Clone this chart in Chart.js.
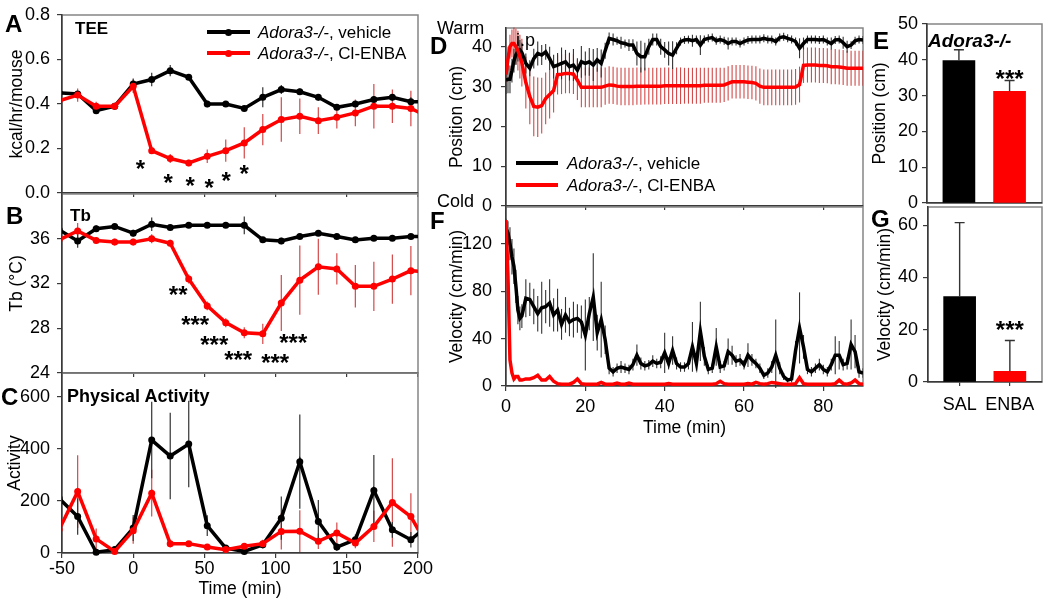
<!DOCTYPE html>
<html><head><meta charset="utf-8">
<script src="https://cdn.jsdelivr.net/npm/chart.js@4.4.1/dist/chart.umd.min.js"></script>
<style>
body{margin:0;width:1050px;height:610px;background:#fff;position:relative;overflow:hidden;font-family:'Liberation Sans',Arial,sans-serif;}
canvas{position:absolute;}
.t{position:absolute;white-space:nowrap;transform:translateY(-50%);line-height:1;color:#000;}
.b{font-weight:bold;}
.L{font-size:24px;font-weight:bold;}
.sw{position:absolute;}
</style></head><body>
<script>
// ---------------- DATA ----------------
const timeLeft = [-52,-39,-26,-13,0,13,26,39,52,65,78,91,104,117,130,143,156,169,182,195,208];
const xTicksLeft = [-50,0,50,100,150,200];
const xLabelsLeft = ['-50','0','50','100','150','200'];

const teeVeh     = [0.45,0.445,0.37,0.39,0.49,0.51,0.55,0.52,0.40,0.40,0.38,0.43,0.465,0.455,0.43,0.385,0.40,0.42,0.43,0.41,0.41];
const teeVehErr  = [0.01,0.01,0.015,0.01,0.025,0.03,0.025,0.01,0.015,0.01,0.01,0.045,0.02,0.015,0.015,0.01,0.01,0.015,0.015,0.02,0.02];
const teeEnba    = [0.415,0.44,0.39,0.39,0.48,0.19,0.155,0.135,0.165,0.19,0.225,0.285,0.33,0.345,0.325,0.34,0.36,0.39,0.39,0.38,0.34];
const teeEnbaErr = [0.02,0.03,0.02,0.015,0.03,0.01,0.02,0.015,0.03,0.05,0.07,0.07,0.1,0.08,0.06,0.05,0.06,0.1,0.075,0.08,0.08];
const yTicksA = [0,0.2,0.4,0.6,0.8];
const yLabelsA = ['0.0','0.2','0.4','0.6','0.8'];

const tbVeh     = [36.8,35.8,36.9,37.1,36.5,37.3,37.0,37.2,37.2,37.2,37.2,35.9,35.8,36.2,36.5,36.2,35.9,36.05,36.05,36.2,36.2];
const tbVehErr  = [0.2,0.6,0.3,0.2,0.3,0.6,0.2,0.2,0.2,0.2,0.8,0.2,0.3,0.2,0.2,0.2,0.2,0.2,0.2,0.2,0.2];
const tbEnba    = [35.9,36.7,35.85,35.7,35.7,36.0,35.6,32.4,30.0,28.5,27.6,27.5,30.25,32.3,33.5,33.3,31.75,31.75,32.4,33.15,33.0];
const tbEnbaErr = [0.3,0.7,0.3,0.3,0.3,0.4,0.3,0.4,0.4,0.4,0.5,0.9,2.5,3.1,2.5,1.4,1.9,2.2,2.2,2.2,2.2];
const yTicksB = [24,28,32,36];
const yLabelsB = ['24','28','32','36'];

const actVeh     = [210,140,3,13,96,434,373,419,105,19,6,32,134,351,121,23,51,240,89,51,110];
const actVehErr  = [30,70,10,10,50,147,166,166,40,10,10,15,83,181,83,15,20,137,30,30,30];
const actEnba    = [90,236,54,6,86,230,36,36,23,13,26,36,83,84,45,77,38,102,194,140,15];
const actEnbaErr = [40,140,40,10,50,90,15,10,10,10,10,15,70,80,30,40,20,60,170,90,60];
const yTicksC = [0,200,400,600];
const yLabelsC = ['0','200','400','600'];

const timeDF = [0,0.5,1,1.5,2,2.5,3,3.5,4,
  5,6,7,8,9,10,11,12,13,14,
  15,16,17,18,19,20,21,22,23,24,
  25,26,27,28,29,30,31,32,33,34,
  35,36,37,38,39,40,41,42,43,44,
  45,46,47,48,49,50,51,52,53,54,
  55,56,57,58,59,60,61,62,63,64,
  65,66,67,68,69,70,71,72,73,74,
  75,76,77,78,79,80,81,82,83,84,
  85,86,87,88,89,90];
const xTicksDF = [0,20,40,60,80];
const xLabelsDF = ['0','20','40','60','80'];

const posVeh = [31.6,31.8,31.8,34,36.5,38,38.8,39.2,38.5,
  35.8,34.6,37,38.3,37.9,38.7,37,35,35.4,35.8,
  36.2,35,35.4,34.1,36.2,35.8,36.2,35.4,36.7,35.8,
  39,42.1,41.8,41.5,41,40.8,40.4,40.4,38.3,37.5,
  37.5,40,41.8,41.8,40,39.2,38.3,37.9,39.6,41.3,
  41.7,41.8,41.5,41.8,40.4,41.8,42.1,42.3,41.5,41.8,
  41.5,40.8,41.3,41.3,40.8,41.3,41.7,41.8,41.8,41.8,
  42.1,41.8,41.8,41.3,42.3,42.5,42.1,41.8,41.3,39.6,
  40.8,41.8,41.8,41.8,41.7,41.8,41.3,40.8,41.7,41.8,
  41,40,40.4,41.5,41.8,41.7];
const posVehErr = [3.5,3.5,3.5,3,3,2.5,2.5,2.5,2.5,
  2.5,2,2.5,3,2.5,2,3,3,3,4,
  3,3.5,4,3,4,3,3.5,4,3,3.5,
  2,1.5,1.5,1,1.5,1,1.5,1.5,3,4,
  3.5,2,1.5,1.5,2,2,3,3.5,1.5,1,
  1,1,1.5,1,2.5,1,1,1,1,1,
  1,1.5,1,1,1,1,1,1,1,1,
  1,1,1,1,1,1,1,1,1,2.5,
  1.5,1,1,1,1,1,1,1.5,1,1,
  1.5,1.5,1,1,1,1];
const posEnba = [33,37,40,40.8,40.8,40,39,37.5,36,
  31,27.5,25,24.8,25.2,27,28,29,33,33.1,
  33.3,33.3,33.1,31.6,29.8,29.8,29.8,29.8,29.8,29.8,
  30.1,30.4,30.3,30.1,30,30,30,30,30.1,30.1,
  30.1,30.1,30.1,30.1,30.1,30.2,30.2,30.2,30.2,30.2,
  30.2,30.2,30.2,30.2,30.2,30.3,30.3,30.3,30.3,30.3,
  30.4,30.8,31.2,31.2,31.2,31.2,31.1,31,30.8,30.1,
  29.8,29.8,29.8,29.8,29.8,29.8,29.8,29.8,29.9,30.5,
  35.3,35.4,35.4,35.4,35.3,35.3,35.2,35,35,34.9,
  34.8,34.6,34.6,34.6,34.6,34.6];
const posEnbaErr = [2,3,3,3.5,4,4.5,5,5.5,6,
  6.5,7,7.5,7.5,7,6.5,6,5.5,5,5,
  5,5,5,5,5,5,5,5,5,5,
  4.7,4.7,4.7,4.7,4.7,4.7,4.7,4.7,4.7,4.7,
  4.6,4.6,4.6,4.6,4.6,4.6,4.6,4.6,4.6,4.6,
  4.5,4.5,4.5,4.5,4.5,4.4,4.4,4.4,4.4,4.4,
  4.3,4.3,4.2,4.2,4.2,4.2,4.2,4.2,4.3,4.4,
  4.5,4.5,4.5,4.5,4.5,4.5,4.5,4.5,4.5,4.5,
  4.4,4.4,4.4,4.4,4.4,4.4,4.4,4.4,4.4,4.4,
  4.4,4.4,4.4,4.4,4.4,4.4];
const yTicksD = [0,10,20,30,40];
const yLabelsD = ['0','10','20','30','40'];

const velVeh = [133,129,120,109,101,84,64,57,59,
  74,73,67,61,66,67,70,60,64,52,
  60,54,56,57,54,43,61,75,45,56,
  39,15,12,15,16,15,14,18,26,19,
  17,18,21,19,20,28,19,30,19,16,
  16,19,33,19,46,25,14,15,33,16,
  17,29,26,21,22,18,26,22,19,15,
  9,11,16,26,15,8,5,6,30,49,
  33,14,12,15,18,14,12,18,26,26,
  18,19,35,29,12,11];
const velVehErr = [8,10,14,15,15,14,12,10,10,
  16,14,15,15,22,14,20,14,18,13,
  15,12,15,12,14,30,14,37,15,32,
  12,5,4,4,5,4,4,5,9,5,
  4,4,5,4,5,17,5,12,5,4,
  4,5,21,6,25,8,4,4,16,5,
  4,11,8,5,5,4,10,5,4,4,
  3,4,5,30,5,3,2,3,8,30,
  10,4,4,4,5,4,4,5,16,12,
  5,5,21,14,5,4];
const velEnba = [140,92,22,11,6,8,8,5,5,
  6,6,7,9,5,5,8,4,2,1.5,
  1.5,1.5,3,6,2,1.5,1.5,1.5,1.5,3,
  1.5,1.5,1.5,2.5,1.5,1.5,2.5,1.5,1.5,1.5,
  1.5,1.5,1.5,1.5,1.5,1.5,2,1.5,1.5,1.5,
  1.5,1.5,1.5,1.5,1.5,1.5,1.5,1.5,2,4,
  2,1.5,1.5,1.5,1.5,1.5,2,1.5,3,2,
  1.5,2,3,2.5,2,1.5,1.5,1.5,2,7,
  2,1.5,1.5,1.5,1.5,1.5,1.5,1.5,2,5,
  2,1.5,2.5,5,2,1.5];
const yTicksF = [0,40,80,120];
const yLabelsF = ['0','40','80','120'];

const barCats = ['SAL','ENBA'];
const posBars = [39.8,31.2];
const posBarErr = [3.0,3.0];
const velBars = [32.7,4.1];
const velBarErr = [28.3,11.8];
const yTicksE = [0,10,20,30,40,50];
const yLabelsE = ['0','10','20','30','40','50'];
const yTicksG = [0,20,40,60];
const yLabelsG = ['0','20','40','60'];

const starsA = [{x:5,y:0.135,text:'*'},{x:24.6,y:0.072,text:'*'},{x:40,y:0.058,text:'*'},{x:53.4,y:0.049,text:'*'},{x:65.3,y:0.081,text:'*'},{x:78,y:0.112,text:'*'}];
const starsB = [{x:31.6,y:31.5,text:'**'},{x:43.5,y:28.8,text:'***'},{x:56.9,y:27.05,text:'***'},{x:73.7,y:25.7,text:'***'},{x:99.7,y:25.4,text:'***'},{x:112.4,y:27.2,text:'***'}];
const starsE = [{x:2,y:36.2,text:'***'}];
const starsG = [{x:2,y:22.1,text:'***'}];

// ---------------- STYLE / HELPERS ----------------
Chart.defaults.font.family = "'Liberation Sans', Arial, sans-serif";
Chart.defaults.color = '#000';
const AX = '#3a3a3a', FRAME = '#858585', RED = '#ff0000', BLK = '#000000';

const framePlugin = {
  id:'frame',
  beforeDraw(chart){
    const a = chart.chartArea, ctx = chart.ctx;
    ctx.save(); ctx.strokeStyle = FRAME; ctx.lineWidth = 1.5;
    ctx.strokeRect(a.left, a.top, a.right - a.left, a.bottom - a.top);
    ctx.restore();
  }
};
function drawErrors(chart, onTop){
  const {ctx, chartArea:a, scales:{x, y}} = chart;
  ctx.save();
  ctx.beginPath(); ctx.rect(a.left, a.top - 2, a.right - a.left, a.bottom - a.top + 4); ctx.clip();
  chart.data.datasets.forEach(ds => {
    if (!ds.errors || !!ds.errorOnTop !== onTop) return;
    ctx.strokeStyle = ds.errorColor; ctx.lineWidth = ds.errorWidth;
    ds.data.forEach((p, j) => {
      const e = ds.errors[j]; if (!e) return;
      const px = x.getPixelForValue(p.x);
      const lo = ds.errorUp ? p.y : p.y - e;
      const y1 = y.getPixelForValue(lo), y2 = y.getPixelForValue(p.y + e);
      ctx.beginPath(); ctx.moveTo(px, y1); ctx.lineTo(px, y2);
      if (ds.errorCap) { ctx.moveTo(px - ds.errorCap, y2); ctx.lineTo(px + ds.errorCap, y2); }
      ctx.stroke();
    });
  });
  ctx.restore();
}
const errorPlugin = {
  id:'errors',
  beforeDatasetsDraw(chart){ drawErrors(chart, false); },
  afterDatasetsDraw(chart){ drawErrors(chart, true); }
};
function starsPlugin(items){
  return { id:'stars', afterDatasetsDraw(chart){
    const {ctx, scales:{x, y}} = chart;
    ctx.save(); ctx.fillStyle = '#000'; ctx.font = "bold 24px 'Liberation Sans', Arial, sans-serif";
    ctx.textAlign = 'center'; ctx.textBaseline = 'alphabetic';
    items.forEach(s => ctx.fillText(s.text, x.getPixelForValue(s.x), y.getPixelForValue(s.y) + 14));
    ctx.restore();
  }};
}
function xAxis(min, max, ticks, labels, o){
  o = o || {};
  return {
    type:'linear', min, max, offset:false,
    afterBuildTicks: s => { s.ticks = ticks.map(v => ({value:v})); },
    ticks:{ display: !!labels, callback:(v,i) => labels ? labels[i] : '', font:{size:18}, color:'#000',
            padding: o.pad === undefined ? 2 : o.pad, maxRotation:0, autoSkip:false },
    grid:{ drawOnChartArea:false, drawTicks: o.noTicks ? false : true, tickLength: o.tl || 4, color:AX, lineWidth:1.2, offset:false },
    border:{ display:true, color:AX, width:1.5 },
    title: o.title ? { display:true, text:o.title, font:{size:17.5}, color:'#000', padding:{top:0, bottom:o.titlePad} } : { display:false }
  };
}
function yAxis(min, max, ticks, labels, title, titlePad, pad){
  return {
    type:'linear', min, max,
    afterBuildTicks: s => { s.ticks = ticks.map(v => ({value:v})); },
    ticks:{ callback:(v,i) => labels[i], font:{size:18}, color:'#000', padding:pad, autoSkip:false },
    grid:{ drawOnChartArea:false, tickLength:5, color:AX, lineWidth:1.2 },
    border:{ display:true, color:AX, width:1.5 },
    title:{ display:true, text:title, font:{size:17.5}, color:'#000', padding:{top:titlePad, bottom:0} }
  };
}
function lineDS(times, vals, errs, color, o){
  return Object.assign({
    data: times.map((t, i) => ({x:t, y:vals[i]})),
    borderColor: color, backgroundColor: color, pointBackgroundColor: color, pointBorderColor: color,
    borderWidth: 3.5, pointRadius: 3.5, pointBorderWidth: 0, tension: 0,
    clip: {left:0, right:0, top:6, bottom:6},
    errors: errs, errorColor: color === RED ? 'rgba(205,40,40,0.85)' : '#333', errorWidth: 1.2
  }, o || {});
}
function panel(box, plot, cfg, stars){
  const c = document.createElement('canvas');
  c.width = box.w; c.height = box.h;
  c.style.left = box.l + 'px'; c.style.top = box.t + 'px';
  c.style.width = box.w + 'px'; c.style.height = box.h + 'px';
  document.body.appendChild(c);
  const o = cfg.options;
  o.responsive = false; o.animation = false; o.devicePixelRatio = 1; o.events = [];
  o.plugins = { legend:{display:false}, tooltip:{enabled:false} };
  o.layout = { padding:{ left:0, top: plot.t - box.t, right: box.l + box.w - plot.r, bottom:0 } };
  o.scales.x.afterFit = s => { s.height = box.t + box.h - plot.b; s.paddingLeft = 0; s.paddingRight = 0; };
  o.scales.y.afterFit = s => { s.width = plot.l - box.l; s.paddingTop = 0; s.paddingBottom = 0; };
  cfg.plugins = [framePlugin, errorPlugin].concat(stars ? [starsPlugin(stars)] : []);
  return new Chart(c, cfg);
}

// ---------------- PANEL A : TEE ----------------
panel({l:0,t:0,w:440,h:200}, {l:62,t:15,r:418,b:193}, {
  type:'line',
  data:{ datasets:[ lineDS(timeLeft, teeEnba, teeEnbaErr, RED), lineDS(timeLeft, teeVeh, teeVehErr, BLK) ] },
  options:{ scales:{ x: xAxis(-50, 200, xTicksLeft, null), y: yAxis(0, 0.8, yTicksA, yLabelsA, 'kcal/hr/mouse', 6.5, 7) } }
}, starsA);

// ---------------- PANEL B : Tb ----------------
panel({l:0,t:186,w:440,h:194}, {l:62,t:194,r:418,b:373}, {
  type:'line',
  data:{ datasets:[ lineDS(timeLeft, tbEnba, tbEnbaErr, RED), lineDS(timeLeft, tbVeh, tbVehErr, BLK) ] },
  options:{ scales:{ x: xAxis(-50, 200, xTicksLeft, null), y: yAxis(24, 40, yTicksB, yLabelsB, 'Tb (°C)', 6.5, 7) } }
}, starsB);

// ---------------- PANEL C : Activity ----------------
panel({l:0,t:366,w:440,h:244}, {l:62,t:373,r:418,b:553}, {
  type:'line',
  data:{ datasets:[ lineDS(timeLeft, actEnba, actEnbaErr, RED), lineDS(timeLeft, actVeh, actVehErr, BLK) ] },
  options:{ scales:{ x: xAxis(-50, 200, xTicksLeft, xLabelsLeft, {tl:5, pad:0, title:'Time (min)', titlePad:10.5}),
                     y: yAxis(0, 692, yTicksC, yLabelsC, 'Activity', 4.5, 7) } }
});

// ---------------- PANEL D : Position ----------------
const dsOpts = {pointRadius:0, borderWidth:3.5, clip:{left:0,right:0,top:6,bottom:6}};
panel({l:425,t:0,w:455,h:212}, {l:506,t:28,r:863,b:206}, {
  type:'line',
  data:{ datasets:[ lineDS(timeDF, posEnba, posEnbaErr, RED, Object.assign({errorWidth:1.1}, dsOpts)),
                    lineDS(timeDF, posVeh, posVehErr, BLK, Object.assign({errorWidth:1.1}, dsOpts)) ] },
  options:{ scales:{ x: xAxis(0, 90, xTicksDF, null), y: yAxis(0, 44.7, yTicksD, yLabelsD, 'Position (cm)', 22, 9) } }
});

// ---------------- PANEL F : Velocity ----------------
panel({l:425,t:200,w:455,h:245}, {l:506,t:207,r:863,b:386}, {
  type:'line',
  data:{ datasets:[ lineDS(timeDF, velEnba, null, RED, dsOpts),
                    lineDS(timeDF, velVeh, velVehErr, BLK, Object.assign({errorWidth:1.1}, dsOpts)) ] },
  options:{ scales:{ x: xAxis(0, 90, xTicksDF, xLabelsDF, {tl:5, pad:5, title:'Time (min)', titlePad:6.5}),
                     y: yAxis(0, 151, yTicksF, yLabelsF, 'Velocity (cm/min)', 22, 9) } }
});

// ---------------- PANEL E : Position bars ----------------
function barDS(vals, errs){
  return { data: vals.map((v, i) => ({x:i+1, y:v})), backgroundColor:[BLK, RED], borderWidth:0,
           barThickness:32, errors:errs, errorUp:true, errorCap:5, errorOnTop:true, errorColor:'#333', errorWidth:1.4 };
}
panel({l:865,t:0,w:185,h:210}, {l:927,t:24,r:1042,b:203}, {
  type:'bar',
  data:{ datasets:[ barDS(posBars, posBarErr) ] },
  options:{ scales:{ x: xAxis(0.37, 2.64, [1,2], null, {noTicks:true}), y: yAxis(0, 50, yTicksE, yLabelsE, 'Position (cm)', 4.5, 4) } }
}, starsE);

// ---------------- PANEL G : Velocity bars ----------------
panel({l:865,t:200,w:185,h:230}, {l:928,t:207,r:1042,b:382}, {
  type:'bar',
  data:{ datasets:[ barDS(velBars, velBarErr) ] },
  options:{ scales:{ x: xAxis(0.37, 2.64, [1,2], barCats, {tl:4, pad:8}), y: yAxis(0, 67, yTicksG, yLabelsG, 'Velocity (cm/min)', 9.5, 5) } }
}, starsG);

// ---------------- TEXT OVERLAYS ----------------
function txt(x, y, html, cls, size, extra){
  const d = document.createElement('div');
  d.className = 't ' + (cls || '');
  d.style.left = x + 'px'; d.style.top = y + 'px';
  if (size) d.style.fontSize = size + 'px';
  if (extra) d.style.cssText += extra;
  d.innerHTML = html;
  document.body.appendChild(d);
}
function swatch(x1, x2, y, color, h, dot){
  const l = document.createElement('div');
  l.className = 'sw';
  l.style.cssText = `left:${x1}px;top:${y - h/2}px;width:${x2 - x1}px;height:${h}px;background:${color};`;
  document.body.appendChild(l);
  if (dot) {
    const d = document.createElement('div');
    d.className = 'sw';
    const c = (x1 + x2) / 2;
    d.style.cssText = `left:${c - 3.5}px;top:${y - 3.5}px;width:7px;height:7px;border-radius:50%;background:${color};`;
    document.body.appendChild(d);
  }
}
txt(5, 24, 'A', 'L');
txt(6, 216, 'B', 'L');
txt(1, 397, 'C', 'L');
txt(430, 46, 'D', 'L');
txt(430, 221, 'F', 'L');
txt(873, 41, 'E', 'L');
txt(871, 219, 'G', 'L');
txt(75, 28, 'TEE', 'b', 17);
txt(70, 215, 'Tb', 'b', 17);
txt(67, 396, 'Physical Activity', 'b', 18);
txt(437, 28, 'Warm', '', 18);
txt(437, 201, 'Cold', '', 18);
txt(516, 40, 'i.p', '', 18);
txt(928, 40, '<i>Adora3-/-</i>', 'b', 19);
// legend A
swatch(207, 250, 32, BLK, 3.5, true);
swatch(207, 250, 53, RED, 3.5, true);
txt(258, 32, '<i>Adora3-/-</i>, vehicle', '', 17);
txt(258, 53, '<i>Adora3-/-</i>, Cl-ENBA', '', 17);
// legend D
swatch(516, 558, 163, BLK, 4, false);
swatch(516, 558, 185, RED, 4, false);
txt(567, 163, '<i>Adora3-/-</i>, vehicle', '', 17);
txt(567, 185, '<i>Adora3-/-</i>, Cl-ENBA', '', 17);
</script>
</body></html>
